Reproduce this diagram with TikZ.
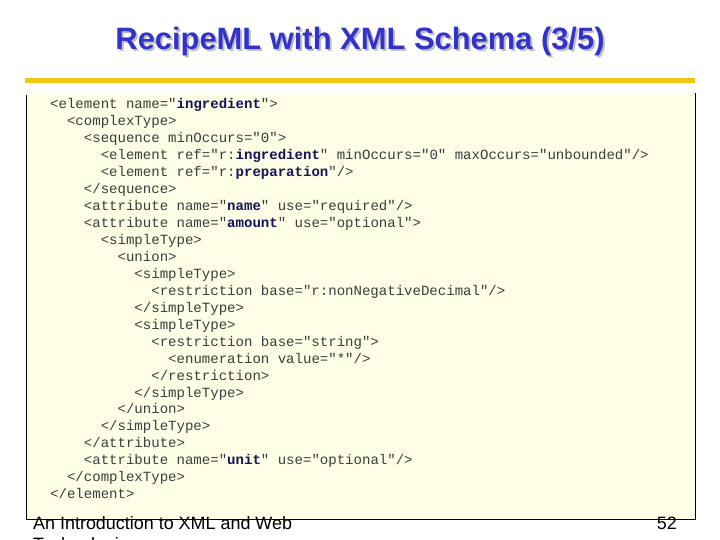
\documentclass[tikz,border=0pt]{standalone}
\usepackage{fontspec}
\setmainfont{Liberation Sans}
\setmonofont{Liberation Mono}
\definecolor{titleblue}{RGB}{51,51,204}
\definecolor{baryellow}{RGB}{240,200,20}
\definecolor{boxfill}{RGB}{255,255,232}
\definecolor{keynavy}{RGB}{20,20,90}
\definecolor{codegray}{RGB}{60,60,60}
\newcommand{\kw}[1]{\textbf{\textcolor{keynavy}{#1}}}
\begin{document}
\begin{tikzpicture}[x=1bp,y=-1bp,
        code line/.style={anchor=base west,inner sep=0pt,text=codegray,
           font=\fontsize{14.1}{14}\ttfamily},
        foot text/.style={anchor=west,inner sep=0pt,
           font=\fontsize{18}{18}\selectfont},
    ]
    \useasboundingbox (0,0) rectangle (720,540);
    % title
    \node[text=gray!50,font=\fontsize{31}{31}\bfseries] at (362,44) {RecipeML with XML Schema (3/5)};
    \node[text=titleblue,font=\fontsize{31}{31}\bfseries] (title) at (360,42) {RecipeML with XML Schema (3/5)};
    \fill[baryellow] (25,78) rectangle (695,83);
    % code box
    \fill[boxfill] (26,93) rectangle (695,519);
    \draw[black,line width=1pt] (26,95) -- (26,519) -- (695,519) -- (695,93);
    % code
    \node[code line] (l1) at (50,108.5) {<element name="\kw{ingredient}">};
    \node[code line] (l2) at (50,125.5) {\ \ <complexType>};
    \node[code line] (l3) at (50,142.5) {\ \ \ \ <sequence minOccurs="0">};
    \node[code line] (l4) at (50,159.5) {\ \ \ \ \ \ <element ref="r:\kw{ingredient}" minOccurs="0" maxOccurs="unbounded"/>};
    \node[code line] (l5) at (50,176.5) {\ \ \ \ \ \ <element ref="r:\kw{preparation}"/>};
    \node[code line] (l6) at (50,193.5) {\ \ \ \ </sequence>};
    \node[code line] (l7) at (50,210.5) {\ \ \ \ <attribute name="\kw{name}" use="required"/>};
    \node[code line] (l8) at (50,227.5) {\ \ \ \ <attribute name="\kw{amount}" use="optional">};
    \node[code line] (l9) at (50,244.5) {\ \ \ \ \ \ <simpleType>};
    \node[code line] (l10) at (50,261.5) {\ \ \ \ \ \ \ \ <union>};
    \node[code line] (l11) at (50,278.5) {\ \ \ \ \ \ \ \ \ \ <simpleType>};
    \node[code line] (l12) at (50,295.5) {\ \ \ \ \ \ \ \ \ \ \ \ <restriction base="r:nonNegativeDecimal"/>};
    \node[code line] (l13) at (50,312.5) {\ \ \ \ \ \ \ \ \ \ </simpleType>};
    \node[code line] (l14) at (50,329.5) {\ \ \ \ \ \ \ \ \ \ <simpleType>};
    \node[code line] (l15) at (50,346.5) {\ \ \ \ \ \ \ \ \ \ \ \ <restriction base="string">};
    \node[code line] (l16) at (50,363.5) {\ \ \ \ \ \ \ \ \ \ \ \ \ \ <enumeration value="*"/>};
    \node[code line] (l17) at (50,380.5) {\ \ \ \ \ \ \ \ \ \ \ \ </restriction>};
    \node[code line] (l18) at (50,397.5) {\ \ \ \ \ \ \ \ \ \ </simpleType>};
    \node[code line] (l19) at (50,413.5) {\ \ \ \ \ \ \ \ </union>};
    \node[code line] (l20) at (50,430.5) {\ \ \ \ \ \ </simpleType>};
    \node[code line] (l21) at (50,447.5) {\ \ \ \ </attribute>};
    \node[code line] (l22) at (50,464.5) {\ \ \ \ <attribute name="\kw{unit}" use="optional"/>};
    \node[code line] (l23) at (50,481.5) {\ \ </complexType>};
    \node[code line] (l24) at (50,498.5) {</element>};
    % footer
    \node[foot text] (foot) at (33,523) {An Introduction to XML and Web};
    \node[foot text] (foot2) at (33,546) {Technologies};
    \node[foot text,anchor=east] (page) at (677,523) {52};
\end{tikzpicture}
\end{document}
